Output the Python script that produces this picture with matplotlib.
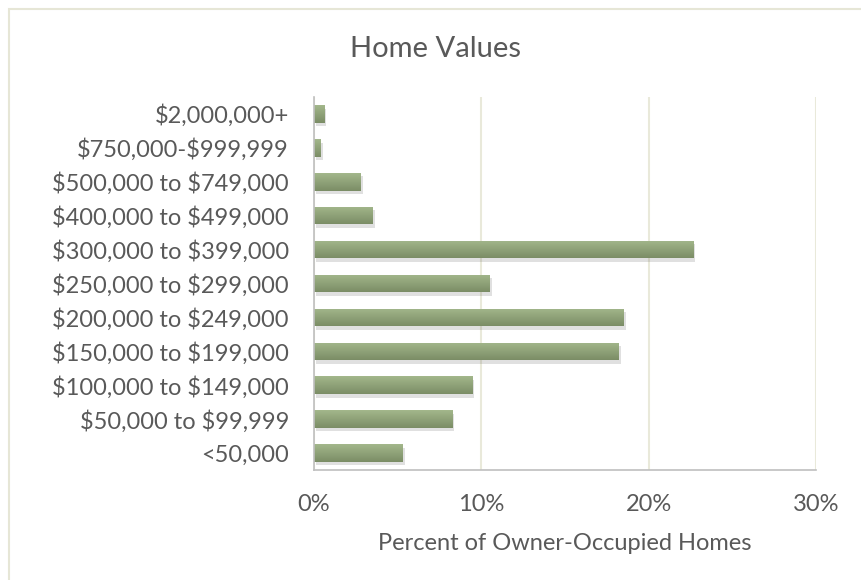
import numpy as np
import matplotlib.pyplot as plt
import matplotlib.patheffects as pe
from matplotlib.patches import Rectangle
from matplotlib.colors import LinearSegmentedColormap

plt.rcParams['font.family'] = ['Lato', 'DejaVu Sans']
plt.rcParams['text.parse_math'] = False

# categories from bottom to top
categories = ['<50,000', '$50,000 to $99,999', '$100,000 to $149,000',
              '$150,000 to $199,000', '$200,000 to $249,000',
              '$250,000 to $299,000', '$300,000 to $399,000',
              '$400,000 to $499,000', '$500,000 to $749,000',
              '$750,000-$999,999', '$2,000,000+']
percent = [5.3, 8.25, 9.45, 18.2, 18.5, 10.5, 22.65, 3.5, 2.8, 0.4, 0.6]
xticks = [0, 10, 20, 30]

text_col = '#595959'
grid_col = '#e9e9da'

fig = plt.figure(figsize=(8.62, 5.80), dpi=100)
ax = fig.add_axes([314 / 862, 110 / 580, 502 / 862, 373 / 580])

y = np.arange(len(categories))
bars = ax.barh(y, percent, height=0.52, color='#8fa37a', zorder=3,
               path_effects=[pe.SimplePatchShadow(offset=(1.5, -2.5), alpha=0.18,
                                                  shadow_rgbFace='#555555'),
                             pe.Normal()])

# vertical gradient inside each bar (lighter on top)
grad = np.linspace(0, 1, 64).reshape(-1, 1)
cmap = LinearSegmentedColormap.from_list('g', ['#7b8d66', '#a3b78b'])
for b in bars:
    x0, y0 = b.get_x(), b.get_y()
    w, h = b.get_width(), b.get_height()
    im = ax.imshow(grad, extent=[x0, x0 + w, y0, y0 + h], origin='lower',
                   cmap=cmap, aspect='auto', zorder=4)
    im.set_clip_path(b)

ax.set_xlim(0, 30)
ax.set_ylim(-0.5, len(categories) - 0.5)
ax.set_xticks(xticks)
ax.set_xticklabels([f'{t}%' for t in xticks])
ax.set_yticks(y)
ax.set_yticklabels(categories)
ax.tick_params(length=0, labelsize=17, colors=text_col)
ax.tick_params(axis='x', pad=17)
ax.tick_params(axis='y', pad=18)
ax.grid(axis='x', color=grid_col, linewidth=1.5, zorder=0)
ax.set_axisbelow(True)

for s in ['top', 'right']:
    ax.spines[s].set_visible(False)
for s in ['left', 'bottom']:
    ax.spines[s].set_color('#bfbfbf')
    ax.spines[s].set_linewidth(1.2)
    ax.spines[s].set_zorder(5)

ax.set_xlabel('Percent of Owner-Occupied Homes', fontsize=17,
              color=text_col, labelpad=13)
fig.text(436 / 862, 1 - 49 / 580, 'Home Values', fontsize=21,
         color=text_col, ha='center', va='center')

# chart border
fig.patches.append(Rectangle((9 / 862, -0.05), 1.1, 1 - 9 / 580 + 0.05,
                             transform=fig.transFigure, fill=False,
                             edgecolor='#e6e6d6', linewidth=1.5))

fig.savefig('out.png', dpi=100, facecolor='white')
